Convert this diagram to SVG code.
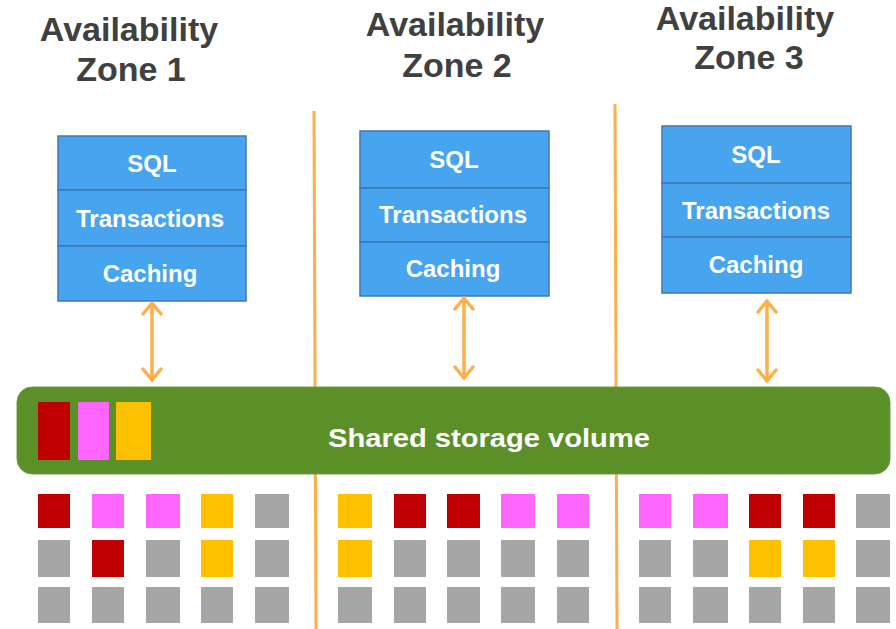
<svg xmlns="http://www.w3.org/2000/svg" width="896" height="629" viewBox="0 0 896 629">
<defs>
<style>
.title{font-family:"Liberation Sans",Arial,sans-serif;font-weight:bold;font-size:34px;fill:#404040;text-anchor:middle}
.lbl{font-family:"Liberation Sans",Arial,sans-serif;font-weight:bold;font-size:24px;fill:#ffffff;text-anchor:middle}
.cell{fill:#47a4ee;stroke:#4277b5;stroke-width:1.5}
.div{stroke:#fdb04a;stroke-width:3;fill:none}
.conn{stroke:#fdb04a;stroke-width:3.5;fill:none;stroke-linecap:round}
.r{fill:#c00000}.p{fill:#ff66ff}.y{fill:#ffc000}.g{fill:#a6a6a6}
</style>
<marker id="ah" markerUnits="userSpaceOnUse" viewBox="-14 -11 16 22" refX="0" refY="0" markerWidth="16" markerHeight="22" orient="auto-start-reverse">
<path d="M -11 -9 L 0 0 L -11 9" fill="none" stroke="#fdb04a" stroke-width="3.5" stroke-linecap="round" stroke-linejoin="round"/>
</marker>
</defs>
<rect width="896" height="629" fill="#ffffff"/>

<line class="div" x1="314" y1="111" x2="316" y2="629"/>
<line class="div" x1="615" y1="104" x2="617" y2="629"/>

<g id="zone1-title">
<text class="title" x="129" y="41">Availability</text>
<text class="title" x="131" y="81">Zone 1</text>
</g>
<g id="zone2-title">
<text class="title" x="455" y="36">Availability</text>
<text class="title" x="457" y="77">Zone 2</text>
</g>
<g id="zone3-title">
<text class="title" x="745" y="30">Availability</text>
<text class="title" x="749" y="69">Zone 3</text>
</g>

<g id="stack1">
<rect class="cell" x="58" y="136" width="188" height="54"/>
<rect class="cell" x="58" y="190" width="188" height="56"/>
<rect class="cell" x="58" y="246" width="188" height="55"/>
<text class="lbl" x="152" y="172">SQL</text>
<text class="lbl" x="150" y="227">Transactions</text>
<text class="lbl" x="150" y="282">Caching</text>
</g>
<g id="stack2">
<rect class="cell" x="360" y="131" width="189" height="57"/>
<rect class="cell" x="360" y="188" width="189" height="54"/>
<rect class="cell" x="360" y="242" width="189" height="54"/>
<text class="lbl" x="454" y="168">SQL</text>
<text class="lbl" x="453" y="223">Transactions</text>
<text class="lbl" x="453" y="277">Caching</text>
</g>
<g id="stack3">
<rect class="cell" x="662" y="126" width="189" height="57"/>
<rect class="cell" x="662" y="183" width="189" height="54"/>
<rect class="cell" x="662" y="237" width="189" height="56"/>
<text class="lbl" x="756" y="163">SQL</text>
<text class="lbl" x="756" y="219">Transactions</text>
<text class="lbl" x="756" y="273">Caching</text>
</g>

<g id="connectors">
<line class="conn" x1="152" y1="303" x2="152" y2="380" marker-start="url(#ah)" marker-end="url(#ah)"/>
<line class="conn" x1="464" y1="298" x2="464" y2="378" marker-start="url(#ah)" marker-end="url(#ah)"/>
<line class="conn" x1="767" y1="301" x2="767" y2="381" marker-start="url(#ah)" marker-end="url(#ah)"/>
</g>

<g id="storage">
<rect x="17" y="387" width="873" height="87" rx="15" fill="#5b8f27" stroke="#6f9d44" stroke-width="1"/>
<rect class="r" x="38" y="402" width="32" height="58"/>
<rect class="p" x="78" y="402" width="31" height="58"/>
<rect class="y" x="116" y="402" width="35" height="58"/>
<text x="489" y="447" font-family="Liberation Sans, Arial, sans-serif" font-weight="bold" font-size="26" fill="#ffffff" text-anchor="middle" textLength="322" lengthAdjust="spacingAndGlyphs">Shared storage volume</text>
</g>

<g id="blocks1">
<rect class="r" x="38" y="494" width="32" height="34"/>
<rect class="p" x="92" y="494" width="32" height="34"/>
<rect class="p" x="146" y="494" width="34" height="34"/>
<rect class="y" x="201" y="494" width="32" height="34"/>
<rect class="g" x="255" y="494" width="34" height="34"/>
<rect class="g" x="38" y="540" width="32" height="37"/>
<rect class="r" x="92" y="540" width="32" height="37"/>
<rect class="g" x="146" y="540" width="34" height="37"/>
<rect class="y" x="201" y="540" width="32" height="37"/>
<rect class="g" x="255" y="540" width="34" height="37"/>
<rect class="g" x="38" y="587" width="32" height="36"/>
<rect class="g" x="92" y="587" width="32" height="36"/>
<rect class="g" x="146" y="587" width="34" height="36"/>
<rect class="g" x="201" y="587" width="32" height="36"/>
<rect class="g" x="255" y="587" width="34" height="36"/>
</g>
<g id="blocks2">
<rect class="y" x="338" y="494" width="34" height="34"/>
<rect class="r" x="394" y="494" width="32" height="34"/>
<rect class="r" x="447" y="494" width="33" height="34"/>
<rect class="p" x="501" y="494" width="34" height="34"/>
<rect class="p" x="557" y="494" width="32" height="34"/>
<rect class="y" x="338" y="540" width="34" height="37"/>
<rect class="g" x="394" y="540" width="32" height="37"/>
<rect class="g" x="447" y="540" width="33" height="37"/>
<rect class="g" x="501" y="540" width="34" height="37"/>
<rect class="g" x="557" y="540" width="32" height="37"/>
<rect class="g" x="338" y="587" width="34" height="36"/>
<rect class="g" x="394" y="587" width="32" height="36"/>
<rect class="g" x="447" y="587" width="33" height="36"/>
<rect class="g" x="501" y="587" width="34" height="36"/>
<rect class="g" x="557" y="587" width="32" height="36"/>
</g>
<g id="blocks3">
<rect class="p" x="639" y="494" width="32" height="34"/>
<rect class="p" x="693" y="494" width="35" height="34"/>
<rect class="r" x="749" y="494" width="32" height="34"/>
<rect class="r" x="803" y="494" width="32" height="34"/>
<rect class="g" x="856" y="494" width="34" height="34"/>
<rect class="g" x="639" y="540" width="32" height="37"/>
<rect class="g" x="693" y="540" width="35" height="37"/>
<rect class="y" x="749" y="540" width="32" height="37"/>
<rect class="y" x="803" y="540" width="32" height="37"/>
<rect class="g" x="856" y="540" width="34" height="37"/>
<rect class="g" x="639" y="587" width="32" height="36"/>
<rect class="g" x="693" y="587" width="35" height="36"/>
<rect class="g" x="749" y="587" width="32" height="36"/>
<rect class="g" x="803" y="587" width="32" height="36"/>
<rect class="g" x="856" y="587" width="34" height="36"/>
</g>
</svg>
